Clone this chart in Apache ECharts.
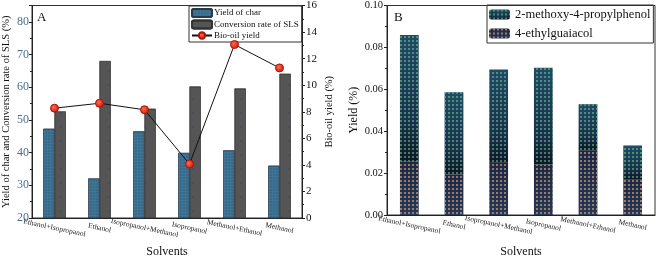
<!DOCTYPE html>
<html><head><meta charset="utf-8">
<script src="https://cdn.jsdelivr.net/npm/echarts@6/dist/echarts.min.js"></script>
<style>html,body{margin:0;padding:0;background:#fff}#c{width:661px;height:263px}</style>
</head><body><div id="c"></div>
<script>
const categories = ['Ethanol+Isopropanol','Ethanol','Isopropanol+Methanol','Isopropanol','Methanol+Ethanol','Methanol'];
const yieldOfChar = [47.3, 32.1, 46.5, 39.9, 40.7, 36.0];
const conversionSLS = [52.6, 68.0, 53.4, 60.2, 59.6, 64.1];
const bioOilYield = [8.27, 8.64, 8.15, 4.06, 13.06, 11.3];
const ethylguaiacol = [0.0256, 0.0193, 0.0249, 0.0241, 0.0309, 0.0171];
const methoxyPropylphenol = [0.0603, 0.0393, 0.0445, 0.0462, 0.0220, 0.0161];
const leftTicks = {min: 20, max: 85, interval: 10};
const rightTicks = {min: 0, max: 16, interval: 2};
const bTicks = {min: 0, max: 0.10, interval: 0.02};

const F = 'Liberation Serif';
const chart = echarts.init(document.getElementById('c'), null, {renderer: 'canvas'});
const axisLine = {show: true, lineStyle: {color: '#222', width: 1}};
const xLabel = {fontFamily: F, fontSize: 7.5, color: '#222', rotate: -12, align: 'center', verticalAlign: 'middle', margin: 10, interval: 0};

chart.setOption({
  animation: false,
  textStyle: {fontFamily: F},
  title: [
    {text: 'A', left: 32, top: 6, textStyle: {fontFamily: F, fontSize: 13, fontWeight: 'normal', color: '#111'}},
    {text: 'B', left: 389, top: 6, textStyle: {fontFamily: F, fontSize: 13, fontWeight: 'normal', color: '#111'}}
  ],
  grid: [
    {left: 31, right: 359, top: 5, bottom: 40, show: true, borderColor: '#333', borderWidth: 1, backgroundColor: 'transparent'},
    {left: 387, right: 6, top: 5, bottom: 37, show: true, borderColor: '#333', borderWidth: 1, backgroundColor: 'transparent'}
  ],
  legend: [
    {data: ['Yield of char', 'Conversion rate of SLS', 'Bio-oil yield'], orient: 'vertical', left: 189, top: 6,
     itemWidth: 20, itemHeight: 8, itemGap: 1.5, padding: [2, 3, 2, 2], borderColor: '#333', borderWidth: 1,
     textStyle: {fontFamily: F, fontSize: 9, color: '#111', padding: [0, 0, 0, -3]}},
    {data: ['2-methoxy-4-propylphenol', '4-ethylguaiacol'], orient: 'vertical', left: 487, top: 5,
     itemWidth: 21, itemHeight: 10, itemGap: 6, padding: [3, 3, 3, 2], borderColor: '#333', borderWidth: 1,
     textStyle: {fontFamily: F, fontSize: 12.5, color: '#111'}}
  ],
  xAxis: [
    {type: 'category', gridIndex: 0, data: categories, name: 'Solvents', nameLocation: 'middle', nameGap: 28,
     nameTextStyle: {fontFamily: F, fontSize: 12, color: '#111'},
     axisLine: axisLine, axisTick: {inside: true, length: 3, lineStyle: {color: '#222'}}, axisLabel: xLabel},
    {type: 'category', gridIndex: 1, data: categories, name: 'Solvents', nameLocation: 'middle', nameGap: 31,
     nameTextStyle: {fontFamily: F, fontSize: 12, color: '#111'},
     axisLine: axisLine, axisTick: {inside: true, length: 3, lineStyle: {color: '#222'}}, axisLabel: xLabel}
  ],
  yAxis: [
    {type: 'value', gridIndex: 0, position: 'left', min: leftTicks.min, max: leftTicks.max, interval: leftTicks.interval,
     name: 'Yield of char and Conversion rate of SLS (%)', nameLocation: 'middle', nameGap: 20, nameRotate: 90,
     nameTextStyle: {fontFamily: F, fontSize: 10.5, color: '#111'},
     axisLine: axisLine, axisTick: {show: true, length: 3, lineStyle: {color: '#222'}},
     minorTick: {show: true, splitNumber: 2, length: 2, lineStyle: {color: '#222'}},
     splitLine: {show: false},
     axisLabel: {fontFamily: F, fontSize: 12, color: '#4a6f8c', margin: 3, showMaxLabel: false}},
    {type: 'value', gridIndex: 0, position: 'right', min: rightTicks.min, max: rightTicks.max, interval: rightTicks.interval,
     name: 'Bio-oil yield (%)', nameLocation: 'middle', nameGap: 22, nameRotate: 90,
     nameTextStyle: {fontFamily: F, fontSize: 10.5, color: '#111'},
     axisLine: axisLine, axisTick: {show: true, length: 3, lineStyle: {color: '#222'}},
     minorTick: {show: true, splitNumber: 2, length: 2, lineStyle: {color: '#222'}},
     splitLine: {show: false},
     axisLabel: {fontFamily: F, fontSize: 11, color: '#111', margin: 4}},
    {type: 'value', gridIndex: 1, min: bTicks.min, max: bTicks.max, interval: bTicks.interval,
     name: 'Yield (%)', nameLocation: 'middle', nameGap: 27, nameRotate: 90,
     nameTextStyle: {fontFamily: F, fontSize: 12, color: '#111'},
     axisLine: axisLine, axisTick: {show: true, length: 3, lineStyle: {color: '#222'}},
     minorTick: {show: true, splitNumber: 2, length: 2, lineStyle: {color: '#222'}},
     splitLine: {show: false},
     axisLabel: {fontFamily: F, fontSize: 10.5, color: '#111', margin: 4, formatter: v => v.toFixed(2)}}
  ],
  series: [
    {name: 'Yield of char', type: 'bar', xAxisIndex: 0, yAxisIndex: 0, data: yieldOfChar, barWidth: '25%', barGap: '0%',
     itemStyle: {color: '#3f7596', borderColor: '#2a3a48', borderWidth: 0.5,
       decal: {symbol: 'diamond', symbolSize: 0.7, dashArrayX: [2, 1], dashArrayY: [2, 1], color: 'rgba(35,45,60,0.6)'}}},
    {name: 'Conversion rate of SLS', type: 'bar', xAxisIndex: 0, yAxisIndex: 0, data: conversionSLS, barWidth: '25%', barGap: '0%',
     itemStyle: {color: '#555555', borderColor: '#333', borderWidth: 0.5,
       decal: {symbol: 'circle', symbolSize: 0.6, dashArrayX: [2, 10], dashArrayY: [2, 12], color: '#1c3a8a'}}},
    {name: 'Bio-oil yield', type: 'line', xAxisIndex: 0, yAxisIndex: 1, data: bioOilYield, symbol: 'circle', symbolSize: 8,
     lineStyle: {color: '#111', width: 1}, z: 5,
     itemStyle: {color: {type: 'radial', x: 0.4, y: 0.4, r: 0.6, colorStops: [{offset: 0, color: '#ff6a4a'}, {offset: 1, color: '#d01a10'}]}, borderColor: '#b01208', borderWidth: 1}},
    {name: '4-ethylguaiacol', type: 'bar', xAxisIndex: 1, yAxisIndex: 2, stack: 'b', data: ethylguaiacol, barWidth: '42%',
     itemStyle: {color: {type: 'linear', x: 0, y: 0, x2: 0, y2: 1, colorStops: [{offset: 0, color: '#1a2848'}, {offset: 1, color: '#24385a'}]},
       decal: {symbol: 'rect', symbolSize: 0.85, dashArrayX: [2, 1.5], dashArrayY: [2, 1.5], color: 'rgba(240,175,110,0.95)'}}},
    {name: '2-methoxy-4-propylphenol', type: 'bar', xAxisIndex: 1, yAxisIndex: 2, stack: 'b', data: methoxyPropylphenol, barWidth: '42%',
     itemStyle: {color: {type: 'linear', x: 0, y: 0, x2: 0, y2: 1, colorStops: [{offset: 0, color: '#1f4a68'}, {offset: 0.7, color: '#183050'}, {offset: 1, color: '#0c1628'}]},
       decal: {symbol: 'rect', symbolSize: 0.85, dashArrayX: [2, 1.5], dashArrayY: [2, 1.5], color: 'rgba(120,200,120,0.9)'}}}
  ]
});
</script></body></html>
